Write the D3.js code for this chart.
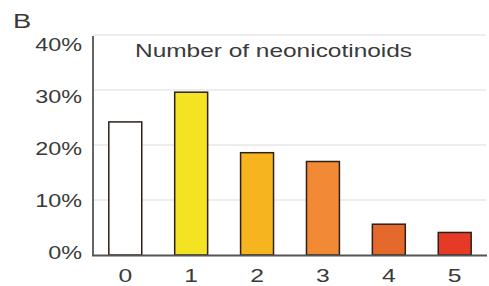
<!DOCTYPE html>
<html>
<head>
<meta charset="utf-8">
<script src="https://cdn.jsdelivr.net/npm/d3@7"></script>
<style>
  body { margin: 0; background: #fff; }
  text { font-family: "Liberation Sans", Arial, sans-serif; fill: #3a3a3a; }
</style>
</head>
<body>
<div id="chart"></div>
<script>
const categories = ['0', '1', '2', '3', '4', '5'];
const shares = [24.2, 29.6, 18.6, 17.0, 5.6, 4.1];
const barColors = ['#ffffff', '#f3e322', '#f6b51e', '#f28a35', '#e5692a', '#e53a26'];
const yTicks = [0, 10, 20, 30, 40];

const width = 489;
const height = 286;
const stretch = 1.3; // the source picture is widened horizontally

const svg = d3.select('#chart')
  .append('svg')
  .attr('width', width)
  .attr('height', height);

const x = d3.scaleBand()
  .domain(categories)
  .range([93, 487])
  .paddingInner(0.5)
  .paddingOuter(0.24);

const y = d3.scaleLinear()
  .domain([0, 40])
  .range([255, 35]);

// tick labels sit on a slightly tighter scale than the gridlines
const yLabel = d3.scaleLinear()
  .domain([0, 40])
  .range([252, 44.5]);

function addText(px, py, size, anchor, str) {
  svg.append('text')
    .attr('transform', `translate(${px},${py}) scale(${stretch},1)`)
    .attr('font-size', size)
    .attr('text-anchor', anchor)
    .text(str);
}

// gridlines
svg.selectAll('.grid')
  .data(yTicks.slice(1))
  .enter()
  .append('line')
  .attr('x1', 93)
  .attr('x2', 486)
  .attr('y1', (d) => y(d))
  .attr('y2', (d) => y(d))
  .attr('stroke', '#dcdcdc')
  .attr('stroke-width', 1.2);

yTicks.forEach((d) => addText(82, yLabel(d) + 6.5, 18, 'end', d + '%'));

// bars
svg.selectAll('.bar')
  .data(shares)
  .enter()
  .append('rect')
  .attr('x', (d, i) => x(categories[i]))
  .attr('y', (d) => y(d))
  .attr('width', x.bandwidth())
  .attr('height', (d) => y(0) - y(d))
  .attr('fill', (d, i) => barColors[i])
  .attr('stroke', '#2e2018')
  .attr('stroke-width', 1.5);

// axes lines
svg.append('line')
  .attr('x1', 93).attr('x2', 93)
  .attr('y1', 36).attr('y2', 256)
  .attr('stroke', '#333').attr('stroke-width', 1.5);

svg.append('line')
  .attr('x1', 92).attr('x2', 487)
  .attr('y1', 255.5).attr('y2', 255.5)
  .attr('stroke', '#555').attr('stroke-width', 2);

categories.forEach((d) => addText(x(d) + x.bandwidth() / 2, 282, 19, 'middle', d));

addText(135, 57, 18.8, 'start', 'Number of neonicotinoids');
addText(13, 28, 21, 'start', 'B');
</script>
</body>
</html>
